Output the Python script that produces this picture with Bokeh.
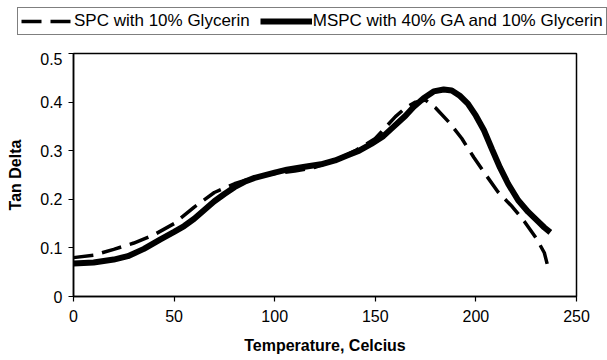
from bokeh.plotting import figure
from bokeh.layouts import column
from bokeh.models import Legend, LegendItem, FixedTicker, CustomJSTickFormatter, Range1d
from bokeh.embed import file_html
from bokeh.resources import INLINE

# ---- data ----
spc_temp = [0, 10, 20, 30, 40, 50, 60, 70, 80, 90, 100, 110, 120, 130, 140, 150,
            160, 165, 170, 175, 180, 187, 193, 199, 205, 211, 218, 224, 230, 234, 236]
spc_tan = [0.080, 0.085, 0.097, 0.110, 0.127, 0.150, 0.184, 0.214, 0.232, 0.245, 0.253,
           0.258, 0.266, 0.280, 0.300, 0.325, 0.370, 0.388, 0.400, 0.404, 0.388, 0.357,
           0.325, 0.286, 0.250, 0.215, 0.185, 0.155, 0.120, 0.090, 0.058]

mspc_temp = [0, 10, 20, 27, 35, 43, 50, 55, 60, 65, 70, 75, 80, 85, 90, 100, 106, 115,
             123, 130, 136, 142, 148, 154, 159, 165, 169, 174, 179, 184, 188, 192, 196,
             200, 204, 208, 212, 216, 221, 226, 231, 234, 237]
mspc_tan = [0.068, 0.070, 0.076, 0.083, 0.098, 0.117, 0.133, 0.145, 0.160, 0.178, 0.196,
            0.211, 0.225, 0.236, 0.244, 0.255, 0.261, 0.267, 0.272, 0.280, 0.290, 0.300,
            0.314, 0.330, 0.349, 0.372, 0.390, 0.408, 0.422, 0.426, 0.424, 0.413, 0.397,
            0.372, 0.342, 0.303, 0.265, 0.232, 0.198, 0.174, 0.154, 0.142, 0.132]

series_names = ["SPC with 10% Glycerin", "MSPC with 40% GA and 10% Glycerin"]
x_ticks = [0, 50, 100, 150, 200, 250]
y_ticks = [0, 0.1, 0.2, 0.3, 0.4, 0.5]
x_title = "Temperature, Celcius"
y_title = "Tan Delta"

FONT = "Liberation Sans"
DASH = "20 9"
W_SPC = 3.5
W_MSPC = 6

# ---------- main chart ----------
p = figure(width=607, height=308, output_backend="svg", toolbar_location=None,
           x_range=Range1d(0, 250), y_range=Range1d(0, 0.5),
           min_border_left=73, min_border_right=31, min_border_top=1,
           min_border_bottom=64)
p.background_fill_color = "white"
p.border_fill_color = "white"
p.outline_line_color = "black"
p.outline_line_width = 1.5
p.grid.visible = False

p.line(spc_temp, spc_tan, line_color="black", line_width=W_SPC, line_dash=DASH)
p.line(mspc_temp, mspc_tan, line_color="black", line_width=W_MSPC)

for ax in (p.xaxis[0], p.yaxis[0]):
    ax.axis_line_color = "black"
    ax.axis_line_width = 1.5
    ax.major_tick_line_color = "black"
    ax.major_tick_line_width = 1.2
    ax.major_tick_out = 5
    ax.major_tick_in = 0
    ax.minor_tick_line_color = None
    ax.major_label_text_font = FONT
    ax.major_label_text_font_size = "16px"
    ax.major_label_text_color = "black"
    ax.axis_label_text_font = FONT
    ax.axis_label_text_font_size = "16px"
    ax.axis_label_text_font_style = "bold"
    ax.axis_label_text_color = "black"

p.xaxis[0].ticker = FixedTicker(ticks=x_ticks)
p.yaxis[0].ticker = FixedTicker(ticks=y_ticks)
p.yaxis[0].formatter = CustomJSTickFormatter(code="return String(tick);")
p.xaxis[0].formatter = CustomJSTickFormatter(code="return String(tick);")
p.xaxis[0].axis_label = x_title
p.yaxis[0].axis_label = y_title
p.xaxis[0].major_label_standoff = 8
p.xaxis[0].axis_label_standoff = 12
p.yaxis[0].major_label_standoff = 6
p.yaxis[0].axis_label_standoff = 13

# ---------- legend strip above the chart ----------
# same series drawn again, but outside this strip's visible y-range, so only
# the legend entries show
lf = figure(width=607, height=52, output_backend="svg", toolbar_location=None,
            x_range=Range1d(0, 250), y_range=Range1d(10, 11),
            x_axis_location=None, y_axis_location=None, min_border=0)
lf.outline_line_color = None
lf.grid.visible = False
lf.background_fill_color = "white"
lf.border_fill_color = "white"
for fig in (lf, p):
    try:
        fig.frame_align = False
    except Exception:
        pass

k_spc = lf.line(spc_temp, spc_tan, line_color="black", line_width=W_SPC, line_dash=DASH)
k_mspc = lf.line(mspc_temp, mspc_tan, line_color="black", line_width=W_MSPC)

legend = Legend(items=[LegendItem(label=series_names[0], renderers=[k_spc]),
                       LegendItem(label=series_names[1], renderers=[k_mspc])],
                orientation="horizontal", location=(17, 17))
legend.label_text_font = FONT
legend.label_text_font_size = "17px"
legend.label_text_color = "black"
legend.glyph_width = 52
legend.glyph_height = 20
legend.label_standoff = 1
legend.spacing = 10
legend.padding = 3
legend.margin = 0
legend.border_line_color = "black"
legend.border_line_width = 1.2
legend.background_fill_color = "white"
legend.background_fill_alpha = 1.0
lf.add_layout(legend, "center")

layout = column(lf, p, spacing=0)
open("out.html", "w").write(file_html(layout, INLINE))
